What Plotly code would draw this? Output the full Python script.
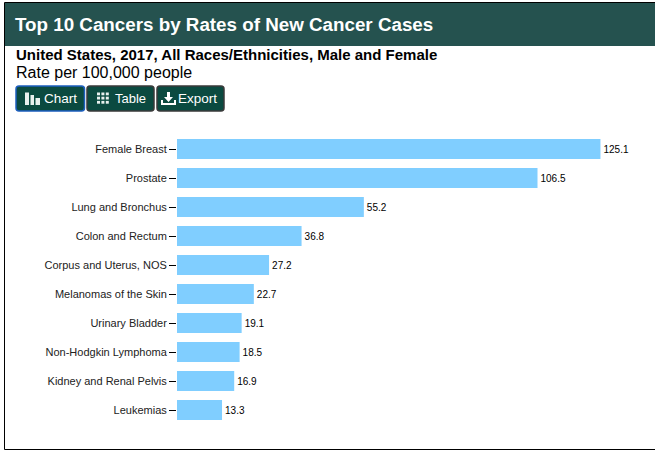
import plotly.graph_objects as go

categories = ["Female Breast", "Prostate", "Lung and Bronchus", "Colon and Rectum",
              "Corpus and Uterus, NOS", "Melanomas of the Skin", "Urinary Bladder",
              "Non-Hodgkin Lymphoma", "Kidney and Renal Pelvis", "Leukemias"]
rates = [125.1, 106.5, 55.2, 36.8, 27.2, 22.7, 19.1, 18.5, 16.9, 13.3]
rate_labels = ["125.1", "106.5", "55.2", "36.8", "27.2", "22.7", "19.1", "18.5", "16.9", "13.3"]

W, H = 655, 450
FONT = "Liberation Sans, Arial, sans-serif"
px = lambda x: x / W
py = lambda y: 1 - y / H


def rect(x0, y0, x1, y1, fill, line=None, lw=0):
    return dict(type="rect", xref="paper", yref="paper", x0=px(x0), x1=px(x1), y0=py(y0), y1=py(y1),
                fillcolor=fill, line=dict(color=line or fill, width=lw), layer="above")


def rrect(x0, y0, x1, y1, r, fill, line, lw):
    p = (f"M {px(x0 + r)} {py(y0)} L {px(x1 - r)} {py(y0)} Q {px(x1)} {py(y0)} {px(x1)} {py(y0 + r)} "
         f"L {px(x1)} {py(y1 - r)} Q {px(x1)} {py(y1)} {px(x1 - r)} {py(y1)} "
         f"L {px(x0 + r)} {py(y1)} Q {px(x0)} {py(y1)} {px(x0)} {py(y1 - r)} "
         f"L {px(x0)} {py(y0 + r)} Q {px(x0)} {py(y0)} {px(x0 + r)} {py(y0)} Z")
    return dict(type="path", xref="paper", yref="paper", path=p, fillcolor=fill,
                line=dict(color=line, width=lw), layer="above")


def poly(points, fill):
    p = "M " + " L ".join(f"{px(x)} {py(y)}" for x, y in points) + " Z"
    return dict(type="path", xref="paper", yref="paper", path=p, fillcolor=fill,
                line=dict(width=0), layer="above")


def text(x, y, s, size, color="#000000", bold=False):
    return dict(xref="paper", yref="paper", x=px(x), y=py(y), xanchor="left", yanchor="middle",
                text=f"<b>{s}</b>" if bold else s, showarrow=False,
                font=dict(family=FONT, size=size, color=color))


BTN = "#0b4a40"
WHITE = "#ffffff"
shapes = [
    rect(4.5, 2.5, 670, 449.5, "rgba(0,0,0,0)", "#000000", 1),
    rect(5, 3, 656, 46, "#25524f"),
    rrect(16, 86, 84.5, 111, 3, BTN, "#1d5fbf", 1.5),
    rrect(87, 86, 154, 111, 3, BTN, "#3a3a3a", 1.5),
    rrect(157, 86, 224, 111, 3, BTN, "#3a3a3a", 1.5),
    # chart icon
    rect(25, 92.5, 29, 105, "#e8f0ee"),
    rect(30.5, 95, 34, 105, "#e8f0ee"),
    rect(35.5, 98, 40, 105, "#e8f0ee"),
    # export icon
    poly([(167, 92), (170, 92), (170, 97), (173, 97), (168.5, 102), (164, 97), (167, 97)], WHITE),
    poly([(161, 100), (163, 100), (163, 103), (174, 103), (174, 100), (176, 100), (176, 105), (161, 105)], WHITE),
]
# table icon
for r in range(3):
    for c in range(3):
        shapes.append(rect(97 + c * 4.4, 92.5 + r * 4.2, 100 + c * 4.4, 95.3 + r * 4.2, "#e8f0ee"))

annotations = [
    text(13, 24.5, "Top 10 Cancers by Rates of New Cancer Cases", 18.8, WHITE, True),
    text(14, 54.5, "United States, 2017, All Races/Ethnicities, Male and Female", 15, bold=True),
    text(14, 72.5, "Rate per 100,000 people", 16),
    text(42, 98.5, "Chart", 13.5, WHITE),
    text(113, 98.5, "Table", 13, WHITE),
    text(176, 98.5, "Export", 13.5, WHITE),
]

fig = go.Figure(go.Bar(
    x=rates, y=categories, orientation="h", marker=dict(color="#80ceff", line=dict(width=0)),
    text=rate_labels, textposition="outside", cliponaxis=False,
    textfont=dict(family=FONT, size=10, color="#000000"), hoverinfo="skip"))

fig.update_layout(
    width=W, height=H, margin=dict(l=0, r=0, t=0, b=0, pad=0),
    paper_bgcolor="#ffffff", plot_bgcolor="#ffffff", showlegend=False, bargap=0.31,
    font=dict(family=FONT, size=11, color="#000000"),
    xaxis=dict(domain=[px(177), px(640)], range=[0, 463 / 3.385], visible=False, fixedrange=True),
    yaxis=dict(domain=[py(424.5), py(134.5)], autorange="reversed", type="category", showgrid=False,
               ticks="outside", ticklen=7, tickwidth=1, tickcolor="#000000", showline=False,
               tickfont=dict(family=FONT, size=11, color="#222222"), fixedrange=True),
    shapes=shapes, annotations=annotations,
)

fig.write_html("out.html", config=dict(displayModeBar=False),
               post_script="document.body.style.margin='0';document.documentElement.style.overflow='hidden';")
